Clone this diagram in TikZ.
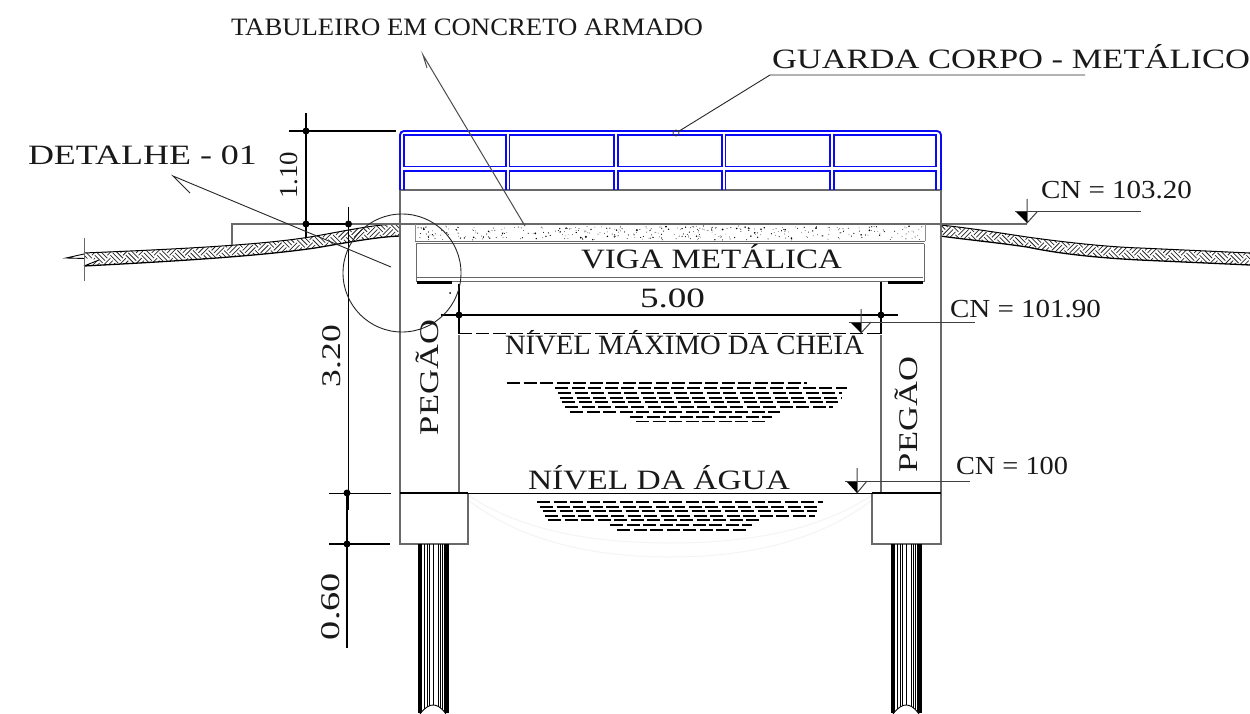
\documentclass[tikz,border=0pt]{standalone}
\usepackage{fontspec}
\setmainfont{Liberation Serif}
\newcommand\wtxt[3]{\resizebox{#1pt}{\height}{\fontsize{#2pt}{#2pt}\selectfont #3}}
\newcommand\hatchband[2]{%
 \foreach \p in {#1,...,#2}{%
  \pgfmathtruncatemacro\ev{mod(\p,2)}%
  \pgfmathsetmacro\cx{\p*7.78}%
  \foreach \q in {26,28,...,36}{%
   \pgfmathsetmacro\cy{(\q+\ev)*7.78}%
   \ifnum\ev=0
    \draw[hatchline] foreach \k in {-2.4,0,2.4}{ (\cx-3.89+\k,\cy+3.89+\k) -- (\cx+3.89+\k,\cy-3.89+\k) };
   \else
    \draw[hatchline] foreach \k in {-2.4,0,2.4}{ (\cx-3.89+\k,\cy-3.89-\k) -- (\cx+3.89+\k,\cy+3.89-\k) };
   \fi
  }%
 }%
}
\definecolor{railblue}{RGB}{10,10,245}
\definecolor{wall}{RGB}{105,105,105}
\definecolor{faintarc}{RGB}{244,244,244}
\tikzset{
 txt/.style={anchor=base west,inner sep=0pt,outer sep=0pt,text=black!90},
 vtxt/.style={anchor=base west,inner sep=0pt,outer sep=0pt,rotate=90,text=black!90},
 hatchline/.style={line width=0.75pt,black!85},
 wallline/.style={line width=1.2pt,wall},
 dimline/.style={line width=1.3pt,black},
 heavy/.style={line width=1.9pt,black},
 thinline/.style={line width=0.9pt,black!85},
 rail/.style={line width=1.9pt,railblue},
 water/.style={line width=1.7pt,black,dash pattern=on 13pt off 3.5pt},
 dimdot/.style={circle,fill=black,inner sep=0pt,minimum size=7pt},
 level/.style={line width=1pt,black!75},
}
\begin{document}
\begin{tikzpicture}[x=1pt,y=-1pt]
\useasboundingbox[fill=white] (0,0) rectangle (1250,714);
% ground bands
\begin{scope}
 \clip (84,253) .. controls (180,249) and (260,245) .. (310,237) .. controls (345,231) and (375,224) .. (400,224) -- (400,236) .. controls (375,237) and (345,243) .. (315,248) .. controls (260,256) and (180,261) .. (84,266) -- (99,260) -- (84,258) -- cycle;
 \hatchband{9}{52}
\end{scope}
\draw[line width=1pt,black] (84,253) .. controls (180,249) and (260,245) .. (310,237) .. controls (345,231) and (375,224) .. (400,224);
\draw[line width=1.3pt,black] (84,266) .. controls (180,261) and (260,256) .. (315,248) .. controls (345,243) and (375,237) .. (400,236);
\draw[line width=0.9pt,black] (84,254) -- (66,258) -- (85,258.5);
\draw[line width=0.9pt,black] (84,266) -- (99,260);
\draw[line width=0.9pt,wall] (84,238) -- (84,281);
\begin{scope}
 \clip (940,225) .. controls (970,228) and (1000,233) .. (1027,237) .. controls (1070,243) and (1110,247) .. (1140,248) -- (1250,253) -- (1250,265) -- (1140,260) .. controls (1100,258) and (1060,254) .. (1027,247) .. controls (1000,243) and (970,240) .. (940,236) -- cycle;
 \hatchband{120}{161}
\end{scope}
\draw[line width=1pt,black] (940,225) .. controls (970,228) and (1000,233) .. (1027,237) .. controls (1070,243) and (1110,247) .. (1140,248) -- (1250,253);
\draw[line width=1.3pt,black] (1250,265) -- (1140,260) .. controls (1100,258) and (1060,254) .. (1027,247) .. controls (1000,243) and (970,240) .. (940,236);
% faint arcs under water
\draw[faintarc,line width=1pt] (468,495) .. controls (520,530) and (590,543) .. (670,543) .. controls (750,543) and (820,530) .. (872,495);
\draw[faintarc,line width=1pt] (468,500) .. controls (520,540) and (590,557) .. (670,557) .. controls (750,557) and (820,540) .. (872,500);
% concrete deck speckle
\pgfmathsetseed{7}
\foreach \i in {1,...,360}{
 \pgfmathsetmacro\dx{418+505*rnd}
 \pgfmathsetmacro\dy{226+14*rnd}
 \pgfmathsetmacro\dr{0.35+1.1*rnd*rnd*rnd}
 \fill[black] (\dx,\dy) circle[radius=\dr pt];
}
\fill[black] (450,293) circle[radius=1pt];
% structure outlines
\draw[wallline] (400,190) -- (400,544) -- (468,544) -- (468,493);
\draw[wallline] (941,190) -- (941,544) -- (872,544) -- (872,493);
\draw[wallline] (400,190) -- (941,190);
\draw[wallline] (459,335) -- (459,493);
\draw[wallline] (881,335) -- (881,493);
\draw[wallline] (232,245) -- (232,224) -- (306,224);
\draw[wallline] (350,224) -- (1027,224);
\draw[line width=0.7pt,black!45] (415,224) -- (415,241);
\draw[line width=0.7pt,black!45] (925,224) -- (925,241);
\draw[wallline] (415,241.5) -- (925,241.5);
\draw[line width=1pt,wall] (416,243.5) -- (924,243.5);
\draw[line width=1pt,wall] (416,281) -- (924,281);
\draw[line width=0.8pt,black!60] (417,277.5) -- (923,277.5);
\draw[line width=1pt,wall] (416,243.5) -- (416,282);
\draw[line width=1pt,wall] (924,243.5) -- (924,282);
\fill[black] (417,280.5) rectangle (452,284);
\fill[black] (888,280.5) rectangle (923,284);
% rail
\draw[rail,rounded corners=4pt] (400,190) -- (400,131) -- (941,131) -- (941,190);
\foreach \xa/\xb in {404/506,509.5/614,618/722,725.5/830,834/936}{
 \draw[rail] (\xa,135) rectangle (\xb,166.5);
 \draw[rail] (\xa,190) -- (\xa,171) -- (\xb,171) -- (\xb,190);
}
% water
\foreach \a/\b/\y in {507/807/383,555/847/388,558/842/393,560/842/398,562/838/402,565/833/407,570/780/412,630/772/417,636/767/421.5,
 537/823/502,540/820/507,543/817/511,545/815/516,548/760/520,610/752/525,617/747/530}{
 \draw[water] (\a,\y) -- (\b,\y);
}
% water line, dims
\draw[dimline] (400,493) -- (468,493);
\draw[line width=0.9pt,black] (468,493) -- (872,493);
\draw[dimline] (872,493) -- (941,493);
\coordinate (dA) at (306,131);
\coordinate (dB) at (306,224);
\coordinate (dC) at (348.5,224);
\coordinate (dD) at (347,493);
\coordinate (dE) at (347,544);
\coordinate (dF) at (459,315);
\coordinate (dG) at (881,315);
\draw[dimline] (289,131) -- (396,131);
\draw[dimline] (306,113) -- (306,238);
\draw[heavy] (306,224) -- (350,224);
\draw[dimline] (348.5,207) -- (348.5,476);
\draw[heavy] (348.5,470) -- (348.5,510);
\draw[dimline] (347,490) -- (347,648);
\draw[heavy] (329,493.5) -- (391,493.5);
\draw[heavy] (329,544) -- (390,544);
\draw[heavy] (441,315) -- (898,315);
\draw[dimline] (459,284) -- (459,333.5);
\draw[dimline] (881,282) -- (881,333.5);
\draw[line width=1.4pt,black,dash pattern=on 13pt off 4pt] (459,333.5) -- (881,333.5);
\foreach \c in {dA,dB,dC,dD,dE,dF,dG}{\node[dimdot] (dot\c) at (\c) {};}
% level marks
\foreach \x/\base/\top/\tip/\e in {1027/212/199/223/1141, 861/322/309/333/975, 857/481/468/493/970}{
 \draw[level] (\x,\top) -- (\x,\tip) -- (\x+10,\base);
 \fill[black] (\x-11,\base) -- (\x,\base) -- (\x,\tip) -- cycle;
 \draw[level] (\x-12,\base) -- (\e,\base);
}
% piles
\foreach \o in {418,891}{
 \fill[black] (\o,544) rectangle (\o+4,713);
 \fill[black] (\o+26,544) rectangle (\o+31,713);
 \foreach \d in {6.5,9,11.5,15.5,20,22.5,24.5}{\draw[line width=0.8pt,black] (\o+\d,544) -- (\o+\d,713);}
 \fill[white] (\o+2,714) .. controls (\o+7,707) and (\o+12,705) .. (\o+15,705) .. controls (\o+19,705) and (\o+23,707) .. (\o+28,714) -- cycle;
 \draw[line width=0.9pt,black] (\o+2,714) .. controls (\o+7,707) and (\o+12,705) .. (\o+15,705) .. controls (\o+19,705) and (\o+23,707) .. (\o+28,714);
}
% leaders
\draw[thinline] (402,273) circle[radius=59];
\draw[thinline] (190,193) -- (173,176) -- (391,267);
\draw[thinline,black!70,line width=1pt] (427,68) -- (423,55) -- (525,226);
\node[circle,draw=black!80,line width=0.7pt,inner sep=0pt,minimum size=6pt] (railpt) at (676,133) {};
\coordinate (guardk) at (770,75);
\coordinate (guarde) at (1085,75);
\draw[thinline] (railpt) -- (guardk) -- (guarde);
% texts
\node[txt] (t1) at (231,36) {\wtxt{472}{25}{TABULEIRO EM CONCRETO ARMADO}};
\node[txt] (t2) at (772,69) {\wtxt{478}{28}{GUARDA CORPO - METÁLICO}};
\node[txt] (t3) at (28,165) {\wtxt{229}{28}{DETALHE - 01}};
\node[txt] (t4) at (1041,199) {\wtxt{151}{26}{CN = 103.20}};
\node[txt] (t5) at (950,317) {\wtxt{151}{26}{CN = 101.90}};
\node[txt] (t6) at (956,474) {\wtxt{112}{26}{CN = 100}};
\node[txt] (t7) at (581,269) {\wtxt{261}{28}{VIGA METÁLICA}};
\node[txt] (t8) at (640,307) {\wtxt{65}{28}{5.00}};
\node[txt] (t9) at (505,354) {\wtxt{359}{28}{NÍVEL MÁXIMO DA CHEIA}};
\node[txt] (t10) at (528,489) {\wtxt{262}{28}{NÍVEL DA ÁGUA}};
\node[vtxt] (t11) at (297,199) {\wtxt{47}{26}{1.10}};
\node[vtxt] (t12) at (340,387) {\wtxt{62}{27}{3.20}};
\node[vtxt] (t13) at (339,640) {\wtxt{67}{27}{0.60}};
\node[vtxt] (t14) at (438.5,435) {\wtxt{115}{27}{PEGÃO}};
\node[vtxt] (t15) at (917,472) {\wtxt{115}{27}{PEGÃO}};
\end{tikzpicture}
\end{document}
